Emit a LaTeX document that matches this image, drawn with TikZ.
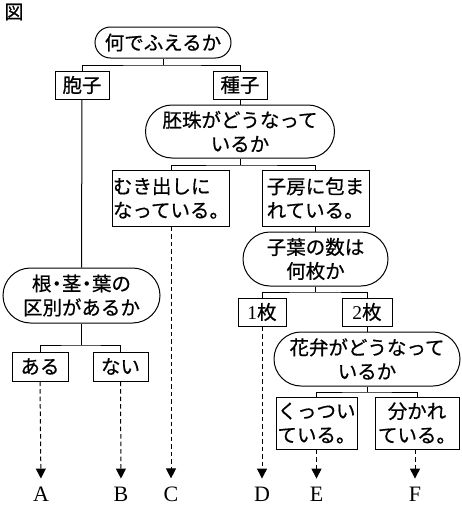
\documentclass[tikz,border=0pt]{standalone}
\usepackage{fontspec}
\setmainfont{Liberation Serif}
\newfontfamily\jp[FakeBold=0.6]{Noto Sans CJK JP}
\usetikzlibrary{arrows.meta}
\newcommand{\nakaguro}{\hspace{-4.5pt}・\hspace{-4.5pt}}
\begin{document}
\begin{tikzpicture}[x=1pt,y=-1pt,
  box/.style={draw,line width=1pt,inner sep=0pt,align=left,
    font=\jp\fontsize{19.5}{24}\selectfont},
  q/.style={box,align=center,rounded corners=#1},
  lab/.style={inner sep=0pt,font=\fontsize{22}{22}\selectfont},
  link/.style={line width=1pt},
  darr/.style={line width=1pt,dash pattern=on 4.5pt off 3pt,shorten >=8pt,
    arrows={-{Triangle[width=10pt,length=10pt]}}}]
\useasboundingbox (0,0) rectangle (462,506);
\node[inner sep=0pt,font=\jp\fontsize{19}{19}\selectfont] (fig) at (14,12) {図};
% nodes
\node[q=15.5pt,minimum width=136pt,minimum height=31pt] (root) at (163,42.5) {何でふえるか};
\node[box,minimum width=54pt,minimum height=28pt,align=center] (hoshi) at (82,85) {胞子};
\node[box,minimum width=54pt,minimum height=28pt,align=center] (shushi) at (240,85) {種子};
\node[q=26.5pt,minimum width=189pt,minimum height=53pt] (haishu) at (240,131.5) {胚珠がどうなって\\いるか};
\node[box,minimum width=107pt,minimum height=56pt] (muki) at (171,198) {むき出しに\\なっている。};
\node[box,minimum width=107pt,minimum height=56pt] (shibo) at (315.5,198) {子房に包ま\\れている。};
\node[q=27pt,minimum width=145pt,minimum height=54pt] (shiyou) at (315.5,259) {子葉の数は\\何枚か};
\node[q=27.5pt,minimum width=157pt,minimum height=55pt] (kon) at (81.5,295.5) {根\nakaguro 茎\nakaguro 葉の\\区別があるか};
\node[box,minimum width=48pt,minimum height=28pt,align=center] (ichi) at (262,312) {{\rmfamily 1}枚};
\node[box,minimum width=50pt,minimum height=28pt,align=center] (ni) at (367,312) {{\rmfamily 2}枚};
\node[box,minimum width=56pt,minimum height=29pt,align=center] (aru) at (40,366.5) {ある};
\node[box,minimum width=55pt,minimum height=29pt,align=center] (nai) at (120.5,366.5) {ない};
\node[q=27pt,minimum width=186pt,minimum height=54pt] (kaben) at (367,359) {花弁がどうなって\\いるか};
\node[box,minimum width=81pt,minimum height=52pt] (kuttsu) at (316.5,423) {くっつい\\ている。};
\node[box,minimum width=84pt,minimum height=52pt,align=center] (wakare) at (417,423) {分かれ\\ている。};
% labels
\node[lab] (A) at (41,494) {A};
\node[lab] (B) at (121,494) {B};
\node[lab] (C) at (171,494) {C};
\node[lab] (D) at (262,494) {D};
\node[lab] (E) at (316.5,494) {E};
\node[lab] (F) at (415,494) {F};
% brackets
\coordinate (j1) at (163,65);
\draw[link] (root.south) -- (j1);
\draw[link] (hoshi.north) |- (j1) -| (shushi.north);
\draw[link] (hoshi.south) -- (kon.north);
\draw[link] (shushi.south) -- (haishu.north);
\coordinate (j2) at (240,165);
\draw[link] (haishu.south) -- (j2);
\draw[link] (muki.north) |- (j2) -| (shibo.north);
\draw[link] (shibo.south) -- (shiyou.north);
\coordinate (j3) at (315.5,292);
\draw[link] (shiyou.south) -- (j3);
\draw[link] (ichi.north) |- (j3) -| (ni.north);
\draw[link] (ni.south) -- (kaben.north);
\coordinate (j4) at (81.5,345);
\draw[link] (kon.south) -- (j4);
\draw[link] (aru.north) |- (j4) -| (nai.north);
\coordinate (j5) at (367,392);
\draw[link] (kaben.south) -- (j5);
\draw[link] (kuttsu.north) |- (j5) -| (wakare.north);
% dashed arrows
\draw[darr] (aru.south) -- (A.north);
\draw[darr] (nai.south) -- (B.north);
\draw[darr] (muki.south) -- (C.north);
\draw[darr] (ichi.south) -- (D.north);
\draw[darr] (kuttsu.south) -- (E.north);
\draw[darr] (wakare.south -| F.north) -- (F.north);
\end{tikzpicture}
\end{document}
